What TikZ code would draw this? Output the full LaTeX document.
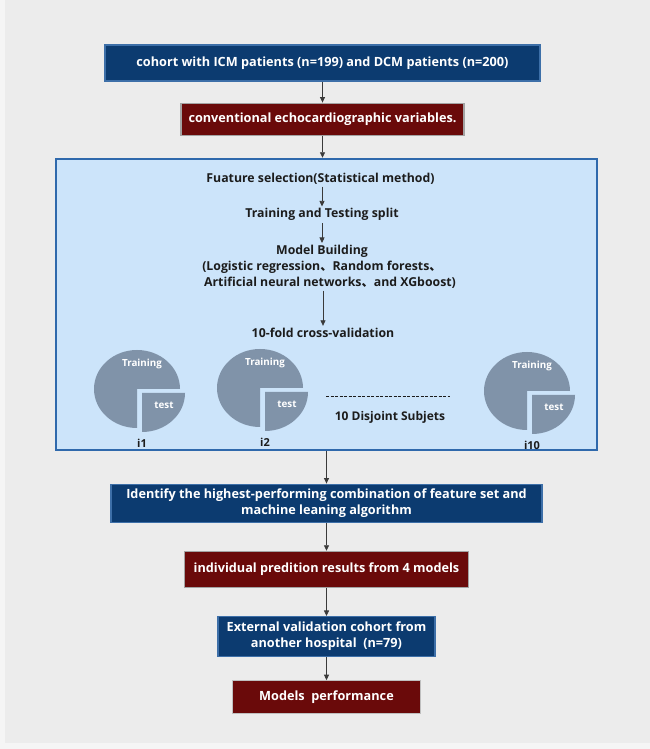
\documentclass[tikz,border=0pt]{standalone}
\usepackage{fontspec}
\setmainfont{Open Sans}
\newfontfamily\cjk{Noto Sans CJK SC}
\usetikzlibrary{arrows.meta, positioning, calc}
\definecolor{fcNavy}{HTML}{0C3B70}
\definecolor{fcNavyLine}{HTML}{3D6FA8}
\definecolor{fcMaroon}{HTML}{6A0A0A}
\definecolor{fcMaroonLine}{HTML}{A3A3A3}
\definecolor{fcSky}{HTML}{CCE4FA}
\definecolor{fcSkyLine}{HTML}{2F69AC}
\definecolor{fcPie}{HTML}{8093A9}
\definecolor{fcInk}{HTML}{1C1C1C}
\definecolor{fcArrowGrey}{HTML}{3A3A3A}
\definecolor{fcPage}{HTML}{ECECEC}
\definecolor{fcPageEdge}{HTML}{F5F5F5}
\tikzset{
  fcBlue/.style={rectangle, draw=fcNavyLine, line width=1.2pt, fill=fcNavy,
    text=white, align=center, inner xsep=4pt, inner ysep=2pt,
    font=\fontsize{12.7}{16}\selectfont\bfseries},
  fcRed/.style={rectangle, draw=fcMaroonLine, line width=1.2pt, fill=fcMaroon,
    text=white, align=center, inner xsep=4pt, inner ysep=2pt,
    font=\fontsize{12.7}{16}\selectfont\bfseries},
  fcPanel/.style={rectangle, draw=fcSkyLine, line width=1.8pt, fill=fcSky,
    minimum width=541pt, minimum height=291pt},
  fcStage/.style={text=fcInk, align=center, inner sep=2pt,
    font=\fontsize{12.3}{16}\selectfont\bfseries},
  fcPieText/.style={text=white, inner sep=0pt, font=\fontsize{9.8}{11}\selectfont\bfseries},
  fcFold/.style={text=fcInk, inner sep=0pt, font=\fontsize{11}{13}\selectfont\bfseries},
  fcArrow/.style={-{Triangle[length=5.5pt, width=5pt]}, line width=0.8pt, fcArrowGrey}
}
\begin{document}
\begin{tikzpicture}[x=1pt, y=1pt]
  \fill[fcPageEdge] (0,0) rectangle (650,749);
  \fill[fcPage] (5,6) rectangle (650,749);
  \useasboundingbox (0,0) rectangle (650,749);

  \node[fcBlue, minimum width=435pt, minimum height=36pt] (cohort) at (322.5,686)
    {cohort with ICM patients (n=199) and DCM patients (n=200)};
  \node[fcRed, minimum width=283pt, minimum height=32pt, below=21pt of cohort] (echo)
    {conventional echocardiographic variables.};
  \node[fcPanel, below=22pt of echo, xshift=4pt] (panel) {};
  \node[fcBlue, minimum width=431pt, minimum height=38pt, below=33pt of panel] (best)
    {Identify the highest-performing combination of feature set and\\machine leaning algorithm};
  \node[fcRed, minimum width=284pt, minimum height=36pt, below=28pt of best] (pred)
    {individual predition results from 4 models};
  \node[fcBlue, minimum width=217pt, minimum height=40pt, below=28pt of pred] (extval)
    {External validation cohort from\\another hospital~ (n=79)};
  \node[fcRed, minimum width=188pt, minimum height=33pt, below=23pt of extval,
    draw=fcMaroonLine!70] (perf) {Models~ performance};

  \draw[fcArrow] (cohort) -- (echo);
  \draw[fcArrow] (echo) -- (echo |- panel.north);
  \draw[fcArrow] (panel.south -| best) -- (best);
  \draw[fcArrow] (best) -- (pred);
  \draw[fcArrow] (pred) -- (extval);
  \draw[fcArrow] (extval) -- (perf);

  % inside the panel
  \node[fcStage] (featsel) at ($(panel.north)+(-6,-21)$) {Fuature selection(Statistical method)};
  \node[fcStage] (split) at ($(featsel)+(1.5,-36)$) {Training and Testing split};
  \node[fcStage] (build) at ($(split)+(0,-52)$)
    {Model Building\\(Logistic regression{\cjk 、}Random forests{\cjk 、}\\
     \hspace*{16pt}Artificial neural networks{\cjk 、}and XGboost)};
  \node[fcStage] (cv) at ($(build)+(1,-66)$) {10-fold cross-validation};
  \draw[fcArrow] (featsel.south -| split) -- (split);
  \draw[fcArrow] (split) -- (build);
  \draw[fcArrow] (build.south -| cv) -- (cv);

  \foreach \cx/\cy/\fold [count=\i] in {137/360/i1, 260/361/i2, 527/358/i10} {
    \coordinate (c\i) at (\cx,\cy);
    \fill[fcPie] (c\i) -- ($(c\i)+(43,0)$)
      arc[start angle=0, end angle=270, x radius=43pt, y radius=39pt] -- cycle;
    \fill[fcPie] ($(c\i)+(5,-4)$) -- ++(0,-39)
      arc[start angle=270, end angle=360, x radius=43pt, y radius=39pt] -- cycle;
    \node[fcPieText] (train\i) at ($(c\i)+(5,25)$) {Training};
    \node[fcPieText] (test\i) at ($(c\i)+(27,-16)$) {test};
    \node[fcFold] (fold\i) at ($(c\i)+(5,-54)$) {\fold};
  }
  \coordinate (dashL) at (326,353);
  \coordinate (dashR) at (450,353);
  \draw[fcInk, dash pattern=on 3pt off 1.5pt, line width=0.5pt] (dashL) -- (dashR);
  \node[fcStage, font=\fontsize{12}{14}\selectfont\bfseries] (disjoint) at (390,332) {10 Disjoint Subjets};
\end{tikzpicture}
\end{document}
